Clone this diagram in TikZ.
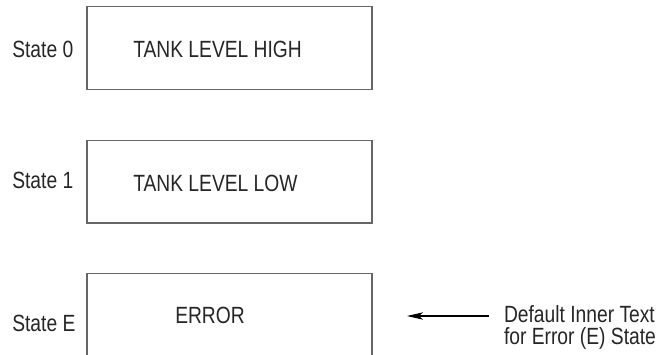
\documentclass[tikz,border=0pt]{standalone}
\usepackage{fontspec}
\setmainfont{Liberation Sans}[FakeStretch=0.82]
\usetikzlibrary{arrows.meta}
\begin{document}
\begin{tikzpicture}[x=0.75pt, y=-0.75pt,
    statebox/.style={draw=black!60, line width=1pt, minimum width=213.75pt,
      minimum height=62pt, inner sep=0pt},
    txt/.style={anchor=base west, inner sep=0pt, text=black!85,
      font=\fontsize{17.6}{16.5}\selectfont},
    pointer/.style={-{Stealth[length=12pt, width=5.5pt, inset=3pt]}, line width=0.8pt}]
  \clip (0,0) rectangle (663,354);
  % the three state boxes
  \node[statebox] (box0) at (229.5,48) {};
  \node[statebox] (box1) at (229.5,181.5) {};
  \node[statebox] (boxE) at (229.5,314.5) {};
  % state names
  \node[txt] (name0) at (12,57.5) {State 0};
  \node[txt] (name1) at (12,188.5) {State 1};
  \node[txt] (nameE) at (12,331.5) {State E};
  % inner text
  \node[txt] (text0) at (133,57.5) {TANK LEVEL HIGH};
  \node[txt] (text1) at (133,191) {TANK LEVEL LOW};
  \node[txt] (textE) at (175,323) {ERROR};
  % note on the error state
  \node[txt, align=left, inner xsep=11.25pt] (note) at (488.75,344)
    {Default Inner Text\\for Error (E) State};
  \coordinate (tip) at (407,316);
  \draw[pointer] (note.west |- tip) -- (tip);
\end{tikzpicture}
\end{document}
